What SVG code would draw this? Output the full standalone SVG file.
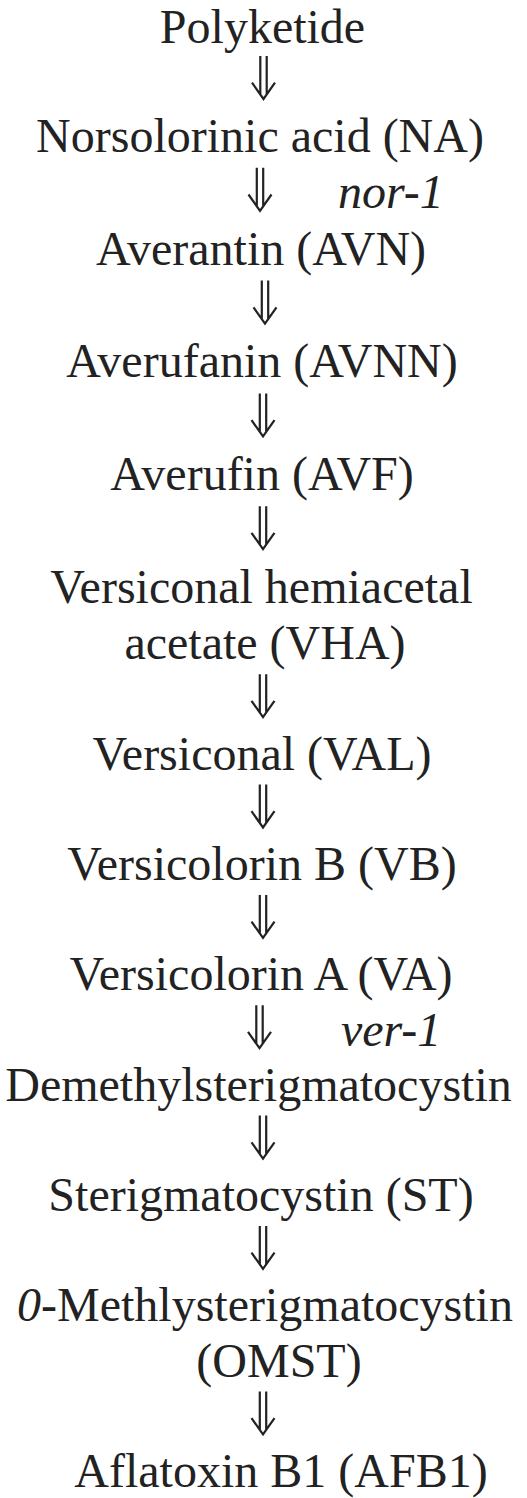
<svg xmlns="http://www.w3.org/2000/svg" width="527" height="1498" viewBox="0 0 527 1498">
<defs>
<style>
text{font-family:'Liberation Serif','Times New Roman','DejaVu Serif',serif;font-size:48px;fill:#222}
.n{text-anchor:middle}
.g{font-style:italic}
.a{fill:none;stroke:#222;stroke-width:2.2;stroke-linecap:butt;stroke-linejoin:miter}
</style>
<path id="arr" d="M-3.2,-40.4 V-2 M3.2,-40.4 V-2 M-11.5,-13.7 L0,2.6 L11.5,-13.7"/>
</defs>
<rect width="527" height="1498" fill="#fff"/>
<g id="n1"><text class="n" x="262.5" y="43">Polyketide</text></g>
<g id="n2"><text class="n" x="260" y="151.8">Norsolorinic acid (NA)</text></g>
<g id="n3"><text class="n" x="261" y="264.6">Averantin (AVN)</text></g>
<g id="n4"><text class="n" x="262" y="377.4">Averufanin (AVNN)</text></g>
<g id="n5"><text class="n" x="262" y="490.2">Averufin (AVF)</text></g>
<g id="n6"><text class="n" x="261.5" y="603">Versiconal hemiacetal</text><text class="n" x="265" y="659.4">acetate (VHA)</text></g>
<g id="n7"><text class="n" x="262" y="769.7">Versiconal (VAL)</text></g>
<g id="n8"><text class="n" x="262" y="880.1">Versicolorin B (VB)</text></g>
<g id="n9"><text class="n" x="261" y="990.4">Versicolorin A (VA)</text></g>
<g id="n10"><text class="n" x="258.5" y="1100.8">Demethylsterigmatocystin</text></g>
<g id="n11"><text class="n" x="261" y="1211.1">Sterigmatocystin (ST)</text></g>
<g id="n12"><text class="n" x="265" y="1321.4"><tspan font-style="italic">0</tspan>-Methlysterigmatocystin</text><text class="n" x="279" y="1376.6">(OMST)</text></g>
<g id="n13"><text class="n" x="281" y="1487">Aflatoxin B1 (AFB1)</text></g>
<g id="connectors">
<use href="#arr" class="a" x="263.5" y="96.4"/>
<use href="#arr" class="a" x="260" y="208.2"/>
<use href="#arr" class="a" x="265" y="321"/>
<use href="#arr" class="a" x="263" y="433.8"/>
<use href="#arr" class="a" x="263" y="546.6"/>
<use href="#arr" class="a" x="263" y="714.6"/>
<use href="#arr" class="a" x="263" y="824.9"/>
<use href="#arr" class="a" x="263" y="935.3"/>
<use href="#arr" class="a" x="259.5" y="1045.6"/>
<use href="#arr" class="a" x="263" y="1156"/>
<use href="#arr" class="a" x="263" y="1266.3"/>
<use href="#arr" class="a" x="263" y="1431.8"/>
<text class="g" x="338" y="208.2">nor-1</text>
<text class="g" x="341" y="1045.6">ver-1</text>
</g>
</svg>
